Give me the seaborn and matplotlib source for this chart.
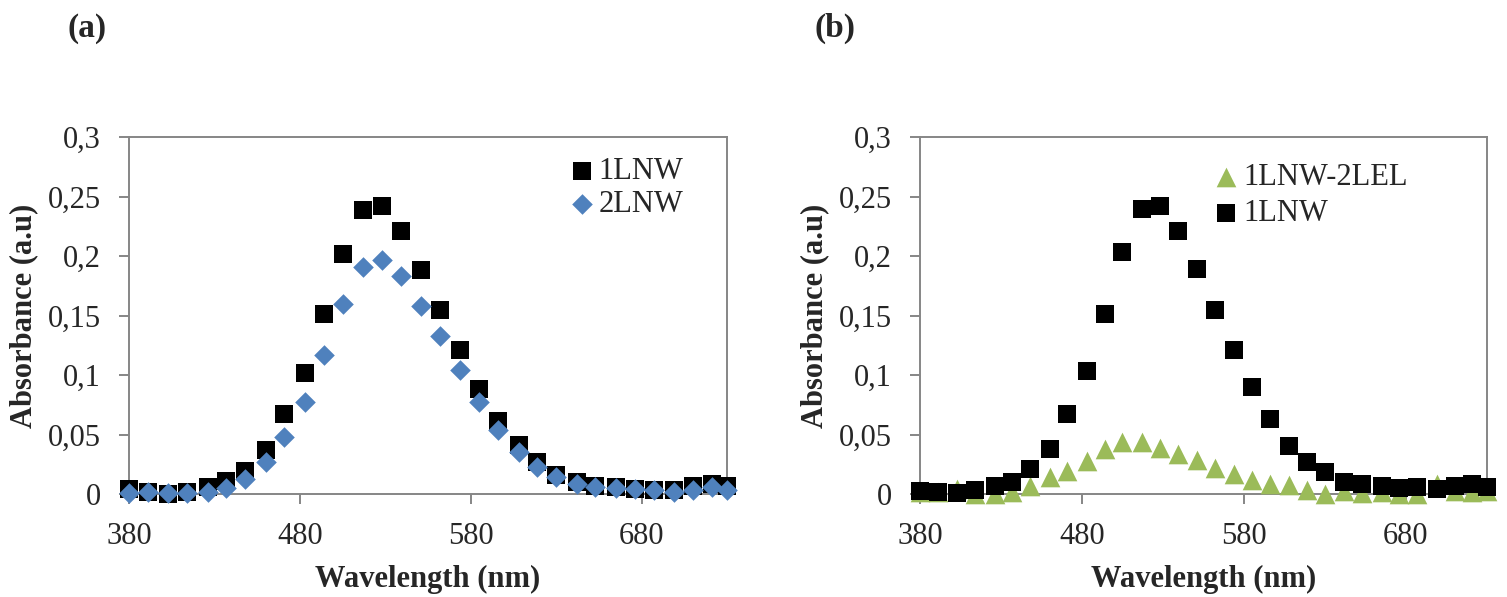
import matplotlib
matplotlib.use("Agg")
import matplotlib.pyplot as plt
import seaborn as sns
import pandas as pd

# longitudes de onda (nm) comunes a todas las series
wavelength = [380, 391, 403, 414, 426, 437, 448, 460, 471, 483, 494, 505, 517, 528, 539, 551,
              562, 574, 585, 596, 608, 619, 630, 642, 653, 665, 676, 687, 699, 710, 721, 730]

# (a)
abs_1lnw_a = [0.004, 0.0015, 0.0, 0.002, 0.006, 0.011, 0.0195, 0.037, 0.067, 0.102, 0.151, 0.202,
              0.239, 0.242, 0.221, 0.188, 0.155, 0.121, 0.0885, 0.0615, 0.041, 0.0265, 0.016, 0.0098,
              0.007, 0.0056, 0.004, 0.0036, 0.0036, 0.007, 0.0084, 0.007]
abs_2lnw = [0.001, 0.0015, 0.001, 0.001, 0.002, 0.0047, 0.0126, 0.0265, 0.0475, 0.077, 0.1165, 0.16,
            0.191, 0.197, 0.183, 0.158, 0.1327, 0.104, 0.0774, 0.054, 0.035, 0.0223, 0.014, 0.0084,
            0.006, 0.0047, 0.004, 0.003, 0.0015, 0.0036, 0.0056, 0.003]

# (b)
abs_1lnw_2lel = [0.0014, 0.002, 0.004, 0.0, 0.0, 0.002, 0.007, 0.0145, 0.0196, 0.028, 0.0377, 0.0433,
                 0.0441, 0.0385, 0.0335, 0.0285, 0.0215, 0.0168, 0.012, 0.0084, 0.0075, 0.0034, 0.0,
                 0.0028, 0.0006, 0.0014, 0.0, 0.0, 0.008, 0.0028, 0.002, 0.0028]
abs_1lnw_b = [0.0028, 0.0014, 0.0006, 0.0034, 0.0064, 0.0103, 0.021, 0.0377, 0.067, 0.1034, 0.1514,
              0.2034, 0.2397, 0.2422, 0.2212, 0.1894, 0.155, 0.1207, 0.0899, 0.0628, 0.0405, 0.0265,
              0.0182, 0.0103, 0.0084, 0.007, 0.0047, 0.0056, 0.0042, 0.007, 0.0084, 0.0061]

x_ticks = [380, 480, 580, 680]
y_ticks = [0, 0.05, 0.1, 0.15, 0.2, 0.25, 0.3]
y_ticklabels = ["0", "0,05", "0,1", "0,15", "0,2", "0,25", "0,3"]

sns.set_style("ticks")
plt.rcParams["font.family"] = ["Liberation Serif", "DejaVu Serif"]

grey = "#868686"
fig = plt.figure(figsize=(15.07, 5.97), dpi=100)
ax_a = fig.add_axes([0.0856, 0.1725, 0.3968, 0.598])
ax_b = fig.add_axes([0.6105, 0.1725, 0.3762, 0.598])

df_a = pd.DataFrame({"wl": wavelength, "1LNW": abs_1lnw_a, "2LNW": abs_2lnw})
df_b = pd.DataFrame({"wl": wavelength, "1LNW-2LEL": abs_1lnw_2lel, "1LNW": abs_1lnw_b})

sns.scatterplot(data=df_a, x="wl", y="1LNW", ax=ax_a, marker="s", color="black", s=150,
                linewidth=0, label="1LNW", clip_on=False, zorder=3)
sns.scatterplot(data=df_a, x="wl", y="2LNW", ax=ax_a, marker="D", color="#4F81BD", s=110,
                linewidth=0, label="2LNW", clip_on=False, zorder=4)

sns.scatterplot(data=df_b, x="wl", y="1LNW-2LEL", ax=ax_b, marker="^", color="#9BBB59", s=200,
                linewidth=0, label="1LNW-2LEL", clip_on=False, zorder=3)
sns.scatterplot(data=df_b, x="wl", y="1LNW", ax=ax_b, marker="s", color="black", s=150,
                linewidth=0, label="1LNW", clip_on=False, zorder=4)

legend_pos = {ax_a: (0.742, 0.857, 0.15), ax_b: (0.524, 0.836, 0.25)}
for ax in (ax_a, ax_b):
    ax.set_xlim(380, 730)
    ax.set_ylim(0, 0.3)
    ax.set_xticks(x_ticks)
    ax.set_yticks(y_ticks)
    ax.set_yticklabels(y_ticklabels)
    ax.tick_params(axis="both", direction="out", length=7, width=1.4, color=grey,
                   labelsize=22, pad=13)
    for sp in ax.spines.values():
        sp.set_color(grey)
        sp.set_linewidth(1.4)
    ax.set_xlabel("Wavelength (nm)", fontsize=22, fontweight="bold", labelpad=10)
    ax.set_ylabel("Absorbance (a.u)", fontsize=22, fontweight="bold", labelpad=7)
    lx, ly, ls = legend_pos[ax]
    ax.legend(loc="center left", bbox_to_anchor=(lx, ly), frameon=False, fontsize=22,
              handlelength=0.6, handletextpad=0.25, borderpad=0, borderaxespad=0,
              labelspacing=ls, scatterpoints=1)

fig.text(0.0577, 0.953, "(a)", fontsize=24, fontweight="bold", ha="center", va="center")
fig.text(0.554, 0.953, "(b)", fontsize=24, fontweight="bold", ha="center", va="center")

fig.savefig("out.png", dpi=100)
